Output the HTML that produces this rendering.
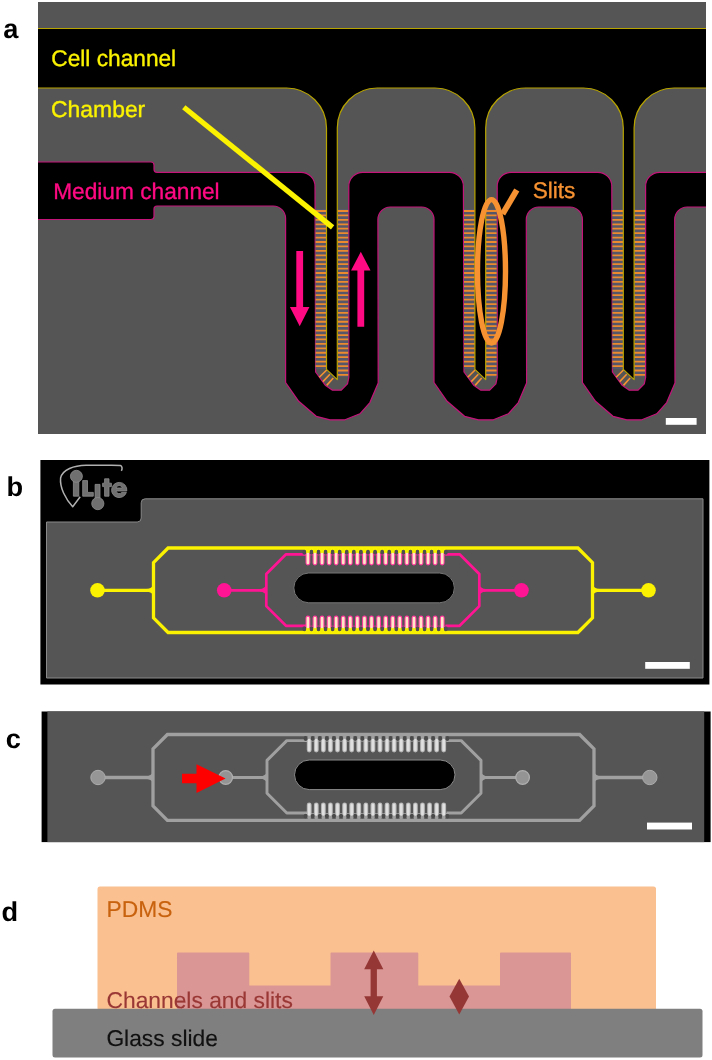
<!DOCTYPE html>
<html><head><meta charset="utf-8"><title>Figure</title>
<style>html,body{margin:0;padding:0;background:#fff;}svg{display:block;will-change:transform;}text{font-family:"Liberation Sans",sans-serif;text-rendering:geometricPrecision;}</style></head><body>
<svg width="712" height="1060" viewBox="0 0 712 1060">
<rect x="0" y="0" width="712" height="1060" fill="#ffffff"/>
<g font-weight="bold" font-size="27.2" fill="#000">
<text x="3.3" y="37.8">a</text>
<text x="6.6" y="495.6">b</text>
<text x="5.8" y="748">c</text>
<text x="1.4" y="920.5">d</text>
</g>
<defs><clipPath id="ca"><rect x="38" y="2" width="668" height="432"/></clipPath></defs>
<g clip-path="url(#ca)">
<rect x="38" y="2" width="668" height="432" fill="#555555"/>
<path d="M 20,162 H 151 q 3,0 3,3 V 169.3 q 0,3 3,3 H 301.00 a 14,14 0 0 1 14,14 L 315.60,372.00 L 325.60,385.60 L 332.50,390.20 L 341.30,390.20 L 347.50,383.80 L 348.80,377.50 V 186.30 a 14,14 0 0 1 14,-14 H 449.40 a 14,14 0 0 1 14,14 L 464.00,372.00 L 474.00,385.60 L 480.90,390.20 L 489.70,390.20 L 495.90,383.80 L 497.20,377.50 V 186.30 a 14,14 0 0 1 14,-14 H 597.80 a 14,14 0 0 1 14,14 L 612.40,372.00 L 622.40,385.60 L 629.30,390.20 L 638.10,390.20 L 644.30,383.80 L 645.60,377.50 V 186.30 a 14,14 0 0 1 14,-14 H 730 V 207 H 687.20 a 12.5,12.5 0 0 0 -12.5,12.5 L 675.00,383.00 L 666.70,402.60 L 656.70,413.80 L 641.80,419.80 L 626.80,419.80 L 613.00,416.30 L 595.50,401.30 L 582.40,382.50 V 219.50 a 12.5,12.5 0 0 0 -12.5,-12.5 H 538.80 a 12.5,12.5 0 0 0 -12.5,12.5 L 526.60,383.00 L 518.30,402.60 L 508.30,413.80 L 493.40,419.80 L 478.40,419.80 L 464.60,416.30 L 447.10,401.30 L 434.00,382.50 V 219.50 a 12.5,12.5 0 0 0 -12.5,-12.5 H 390.40 a 12.5,12.5 0 0 0 -12.5,12.5 L 378.20,383.00 L 369.90,402.60 L 359.90,413.80 L 345.00,419.80 L 330.00,419.80 L 316.20,416.30 L 298.70,401.30 L 285.60,382.50 V 218.50 a 12.5,12.5 0 0 0 -12.5,-12.5 H 157 q -3,0 -3,3 V 216.5 q 0,3 -3,3 H 20 Z" fill="#000" stroke="#c4147a" stroke-width="1.2" stroke-linejoin="round"/>
<rect x="315.60" y="209" width="10.90" height="160" fill="#57576a"/>
<rect x="337.30" y="209" width="10.90" height="168" fill="#57576a"/>
<path d="M315.60,211.00H326.50M337.30,211.00H348.20M315.60,215.43H326.50M337.30,215.43H348.20M315.60,219.86H326.50M337.30,219.86H348.20M315.60,224.29H326.50M337.30,224.29H348.20M315.60,228.72H326.50M337.30,228.72H348.20M315.60,233.15H326.50M337.30,233.15H348.20M315.60,237.58H326.50M337.30,237.58H348.20M315.60,242.01H326.50M337.30,242.01H348.20M315.60,246.44H326.50M337.30,246.44H348.20M315.60,250.87H326.50M337.30,250.87H348.20M315.60,255.30H326.50M337.30,255.30H348.20M315.60,259.73H326.50M337.30,259.73H348.20M315.60,264.16H326.50M337.30,264.16H348.20M315.60,268.59H326.50M337.30,268.59H348.20M315.60,273.02H326.50M337.30,273.02H348.20M315.60,277.45H326.50M337.30,277.45H348.20M315.60,281.88H326.50M337.30,281.88H348.20M315.60,286.31H326.50M337.30,286.31H348.20M315.60,290.74H326.50M337.30,290.74H348.20M315.60,295.17H326.50M337.30,295.17H348.20M315.60,299.60H326.50M337.30,299.60H348.20M315.60,304.03H326.50M337.30,304.03H348.20M315.60,308.46H326.50M337.30,308.46H348.20M315.60,312.89H326.50M337.30,312.89H348.20M315.60,317.32H326.50M337.30,317.32H348.20M315.60,321.75H326.50M337.30,321.75H348.20M315.60,326.18H326.50M337.30,326.18H348.20M315.60,330.61H326.50M337.30,330.61H348.20M315.60,335.04H326.50M337.30,335.04H348.20M315.60,339.47H326.50M337.30,339.47H348.20M315.60,343.90H326.50M337.30,343.90H348.20M315.60,348.33H326.50M337.30,348.33H348.20M315.60,352.76H326.50M337.30,352.76H348.20M315.60,357.19H326.50M337.30,357.19H348.20M315.60,361.62H326.50M337.30,361.62H348.20M315.60,366.05H326.50M337.30,366.05H348.20M337.30,370.48H348.20M337.30,374.91H348.20" stroke="#ee8a2e" stroke-width="1.8" fill="none"/>
<path d="M319.30,377.20L326.70,370.00M322.90,381.60L329.90,374.20M326.70,385.40L333.30,378.00" stroke="#f79232" stroke-width="1.6" fill="none"/>
<rect x="464.00" y="209" width="10.90" height="160" fill="#57576a"/>
<rect x="485.70" y="209" width="10.90" height="168" fill="#57576a"/>
<path d="M464.00,211.00H474.90M485.70,211.00H496.60M464.00,215.43H474.90M485.70,215.43H496.60M464.00,219.86H474.90M485.70,219.86H496.60M464.00,224.29H474.90M485.70,224.29H496.60M464.00,228.72H474.90M485.70,228.72H496.60M464.00,233.15H474.90M485.70,233.15H496.60M464.00,237.58H474.90M485.70,237.58H496.60M464.00,242.01H474.90M485.70,242.01H496.60M464.00,246.44H474.90M485.70,246.44H496.60M464.00,250.87H474.90M485.70,250.87H496.60M464.00,255.30H474.90M485.70,255.30H496.60M464.00,259.73H474.90M485.70,259.73H496.60M464.00,264.16H474.90M485.70,264.16H496.60M464.00,268.59H474.90M485.70,268.59H496.60M464.00,273.02H474.90M485.70,273.02H496.60M464.00,277.45H474.90M485.70,277.45H496.60M464.00,281.88H474.90M485.70,281.88H496.60M464.00,286.31H474.90M485.70,286.31H496.60M464.00,290.74H474.90M485.70,290.74H496.60M464.00,295.17H474.90M485.70,295.17H496.60M464.00,299.60H474.90M485.70,299.60H496.60M464.00,304.03H474.90M485.70,304.03H496.60M464.00,308.46H474.90M485.70,308.46H496.60M464.00,312.89H474.90M485.70,312.89H496.60M464.00,317.32H474.90M485.70,317.32H496.60M464.00,321.75H474.90M485.70,321.75H496.60M464.00,326.18H474.90M485.70,326.18H496.60M464.00,330.61H474.90M485.70,330.61H496.60M464.00,335.04H474.90M485.70,335.04H496.60M464.00,339.47H474.90M485.70,339.47H496.60M464.00,343.90H474.90M485.70,343.90H496.60M464.00,348.33H474.90M485.70,348.33H496.60M464.00,352.76H474.90M485.70,352.76H496.60M464.00,357.19H474.90M485.70,357.19H496.60M464.00,361.62H474.90M485.70,361.62H496.60M464.00,366.05H474.90M485.70,366.05H496.60M485.70,370.48H496.60M485.70,374.91H496.60" stroke="#ee8a2e" stroke-width="1.8" fill="none"/>
<path d="M467.70,377.20L475.10,370.00M471.30,381.60L478.30,374.20M475.10,385.40L481.70,378.00" stroke="#f79232" stroke-width="1.6" fill="none"/>
<rect x="612.40" y="209" width="10.90" height="160" fill="#57576a"/>
<rect x="634.10" y="209" width="10.90" height="168" fill="#57576a"/>
<path d="M612.40,211.00H623.30M634.10,211.00H645.00M612.40,215.43H623.30M634.10,215.43H645.00M612.40,219.86H623.30M634.10,219.86H645.00M612.40,224.29H623.30M634.10,224.29H645.00M612.40,228.72H623.30M634.10,228.72H645.00M612.40,233.15H623.30M634.10,233.15H645.00M612.40,237.58H623.30M634.10,237.58H645.00M612.40,242.01H623.30M634.10,242.01H645.00M612.40,246.44H623.30M634.10,246.44H645.00M612.40,250.87H623.30M634.10,250.87H645.00M612.40,255.30H623.30M634.10,255.30H645.00M612.40,259.73H623.30M634.10,259.73H645.00M612.40,264.16H623.30M634.10,264.16H645.00M612.40,268.59H623.30M634.10,268.59H645.00M612.40,273.02H623.30M634.10,273.02H645.00M612.40,277.45H623.30M634.10,277.45H645.00M612.40,281.88H623.30M634.10,281.88H645.00M612.40,286.31H623.30M634.10,286.31H645.00M612.40,290.74H623.30M634.10,290.74H645.00M612.40,295.17H623.30M634.10,295.17H645.00M612.40,299.60H623.30M634.10,299.60H645.00M612.40,304.03H623.30M634.10,304.03H645.00M612.40,308.46H623.30M634.10,308.46H645.00M612.40,312.89H623.30M634.10,312.89H645.00M612.40,317.32H623.30M634.10,317.32H645.00M612.40,321.75H623.30M634.10,321.75H645.00M612.40,326.18H623.30M634.10,326.18H645.00M612.40,330.61H623.30M634.10,330.61H645.00M612.40,335.04H623.30M634.10,335.04H645.00M612.40,339.47H623.30M634.10,339.47H645.00M612.40,343.90H623.30M634.10,343.90H645.00M612.40,348.33H623.30M634.10,348.33H645.00M612.40,352.76H623.30M634.10,352.76H645.00M612.40,357.19H623.30M634.10,357.19H645.00M612.40,361.62H623.30M634.10,361.62H645.00M612.40,366.05H623.30M634.10,366.05H645.00M634.10,370.48H645.00M634.10,374.91H645.00" stroke="#ee8a2e" stroke-width="1.8" fill="none"/>
<path d="M616.10,377.20L623.50,370.00M619.70,381.60L626.70,374.20M623.50,385.40L630.10,378.00" stroke="#f79232" stroke-width="1.6" fill="none"/>
<path d="M 20,28.5 H 730 V 88 H 674.10 a 40,40 0 0 0 -40,40 V 379.6 L 623.30,369.4 V 128 a 40,40 0 0 0 -40,-40 H 525.70 a 40,40 0 0 0 -40,40 V 379.6 L 474.90,369.4 V 128 a 40,40 0 0 0 -40,-40 H 377.30 a 40,40 0 0 0 -40,40 V 379.6 L 326.50,369.4 V 128 a 40,40 0 0 0 -40,-40 H 20 Z" fill="#000" stroke="#b8a400" stroke-width="1.2" stroke-linejoin="round"/>
<line x1="183.8" y1="107.3" x2="332.6" y2="227.4" stroke="#faf200" stroke-width="5.3"/>
<path d="M296.3,251 H303.09999999999997 V307.0 H309.45 L299.7,326.2 L289.95,307.0 H296.3 Z" fill="#ff0a82"/>
<path d="M360.8,251.8 L370.55,270.40000000000003 H364.2 V326.8 H357.40000000000003 V270.40000000000003 H351.05 Z" fill="#ff0a82"/>
<ellipse cx="491.5" cy="271.3" rx="14.0" ry="71.7" fill="none" stroke="#f79232" stroke-width="5.4"/>
<line x1="502.6" y1="214" x2="516.8" y2="190" stroke="#f79232" stroke-width="5.9"/>
<g font-size="22.9" stroke-width="0.35">
<text x="51.3" y="65.9" fill="#faf200" stroke="#faf200" font-size="22.7">Cell channel</text>
<text x="51.1" y="117.0" fill="#faf200" stroke="#faf200">Chamber</text>
<text x="53.2" y="198.5" fill="#ff0a82" stroke="#ff0a82" font-size="22.7">Medium channel</text>
<text x="532.7" y="198.4" fill="#f79232" stroke="#f79232" font-size="22.6">Slits</text>
</g>
<rect x="665.8" y="418" width="30.8" height="6.8" fill="#fff"/>
</g>
<g>
<rect x="40.4" y="460" width="669.0" height="224.5" fill="#000"/>
<path d="M46.5,522 H137.2 q4,0 4,-4 V502.8 q0,-4 4,-4 H703 V678 H46.5 Z" fill="#555555" stroke="#8a8a8a" stroke-width="1"/>
<g id="logo" fill="#707070" stroke="#8e8e8e" stroke-width="0.8" stroke-linejoin="round">
<path d="M121.4,470.8 C122.6,468.6 122.2,466.2 120.4,465.4 C112,465 98,465.6 86,465.2 C74,465.4 62.5,469.5 60.6,478 C59.6,487.5 65.5,499 72.7,506.8 L80.2,496.8" fill="none" stroke="#b0b0b0" stroke-width="1.5"/>
<rect x="73.4" y="481" width="5.4" height="15.2"/>
<circle cx="76.4" cy="476.3" r="6"/>
<path d="M82.7,480.6 h4.8 v11.8 h5.8 v3.8 h-10.6 Z"/>
<rect x="95.1" y="484.4" width="4.9" height="14"/>
<circle cx="97.8" cy="503.6" r="6.1"/>
<path d="M104.6,478.8 h4.4 v4.4 h2.4 v3.4 h-2.4 v9.6 h-4.4 v-9.6 h-2 v-3.4 h2 Z"/>
<path d="M119.2,482.4 a7.6,7.6 0 1 0 7.2,10 h-4.6 a3.3,3.3 0 0 1 -5.8,-1.4 h10.8 a7.6,7.6 0 0 0 -7.6,-8.6 Z M116,488 a3.3,3.3 0 0 1 6.4,0 Z" fill-rule="evenodd"/>
</g>
<path d="M168.1,548 H577.9 L592.5,562.6 V617.9 L577.9,632.5 H168.1 L153.5,617.9 V562.6 Z" fill="none" stroke="#faf200" stroke-width="3.3" stroke-linejoin="miter"/>
<path d="M97.5,590.3 H153.5 M592.5,590.3 H648.5" stroke="#faf200" stroke-width="3.3" fill="none"/>
<path d="M153.5,584.6999999999999 Q151.7,588.6999999999999 146.5,589.0 V591.5999999999999 Q151.7,591.9 153.5,595.9 Z" fill="#faf200"/>
<path d="M592.5,584.6999999999999 Q594.3,588.6999999999999 599.5,589.0 V591.5999999999999 Q594.3,591.9 592.5,595.9 Z" fill="#faf200"/>
<circle cx="97.5" cy="590.3" r="7.3" fill="#faf200"/>
<circle cx="648.5" cy="590.3" r="7.3" fill="#faf200"/>
<path d="M224.2,590.3 H266.3 M306,554.3 H286.0 L266.3,574.0 V606.0999999999999 L286.0,625.8 H306" fill="none" stroke="#ff1493" stroke-width="2.7" stroke-linejoin="round"/>
<path d="M521.5,590.3 H479.3 M445.5,554.3 H459.6 L479.3,574.0 V606.0999999999999 L459.6,625.8 H445.5" fill="none" stroke="#ff1493" stroke-width="2.7" stroke-linejoin="round"/>
<path d="M266.3,585.0999999999999 Q264.5,588.8 259.8,589.0999999999999 V591.5 Q264.5,591.8 266.3,595.5 Z" fill="#ff1493"/>
<path d="M479.3,585.0999999999999 Q481.1,588.8 485.8,589.0999999999999 V591.5 Q481.1,591.8 479.3,595.5 Z" fill="#ff1493"/>
<circle cx="224.2" cy="590.3" r="7.3" fill="#ff1493"/>
<circle cx="521.5" cy="590.3" r="7.3" fill="#ff1493"/>
<rect x="293.8" y="573" width="160.59999999999997" height="29.799999999999955" rx="14.899999999999977" ry="14.899999999999977" fill="#000" stroke="#777" stroke-width="1"/>
<path d="M304.36,550.80H445.77M304.36,630.20H445.77" stroke="#faf200" stroke-width="4.6" fill="none"/>
<path d="M303.36,554.10H446.77M303.36,626.90H446.77" stroke="#ff3aa0" stroke-width="2.2" fill="none"/>
<path d="M304.36,551.80V552.80M304.36,629.20V628.20M311.44,551.80V552.80M311.44,629.20V628.20M318.50,551.80V552.80M318.50,629.20V628.20M325.57,551.80V552.80M325.57,629.20V628.20M332.64,551.80V552.80M332.64,629.20V628.20M339.71,551.80V552.80M339.71,629.20V628.20M346.78,551.80V552.80M346.78,629.20V628.20M353.85,551.80V552.80M353.85,629.20V628.20M360.92,551.80V552.80M360.92,629.20V628.20M368.00,551.80V552.80M368.00,629.20V628.20M375.06,551.80V552.80M375.06,629.20V628.20M382.13,551.80V552.80M382.13,629.20V628.20M389.20,551.80V552.80M389.20,629.20V628.20M396.27,551.80V552.80M396.27,629.20V628.20M403.34,551.80V552.80M403.34,629.20V628.20M410.41,551.80V552.80M410.41,629.20V628.20M417.49,551.80V552.80M417.49,629.20V628.20M424.55,551.80V552.80M424.55,629.20V628.20M431.62,551.80V552.80M431.62,629.20V628.20M438.69,551.80V552.80M438.69,629.20V628.20M445.76,551.80V552.80M445.76,629.20V628.20" stroke="#4c4c52" stroke-width="3.9" stroke-linecap="round" fill="none"/>
<path d="M307.90,555.60V563.00M307.90,618.00V625.40M314.97,555.60V563.00M314.97,618.00V625.40M322.04,555.60V563.00M322.04,618.00V625.40M329.11,555.60V563.00M329.11,618.00V625.40M336.18,555.60V563.00M336.18,618.00V625.40M343.25,555.60V563.00M343.25,618.00V625.40M350.32,555.60V563.00M350.32,618.00V625.40M357.39,555.60V563.00M357.39,618.00V625.40M364.46,555.60V563.00M364.46,618.00V625.40M371.53,555.60V563.00M371.53,618.00V625.40M378.60,555.60V563.00M378.60,618.00V625.40M385.67,555.60V563.00M385.67,618.00V625.40M392.74,555.60V563.00M392.74,618.00V625.40M399.81,555.60V563.00M399.81,618.00V625.40M406.88,555.60V563.00M406.88,618.00V625.40M413.95,555.60V563.00M413.95,618.00V625.40M421.02,555.60V563.00M421.02,618.00V625.40M428.09,555.60V563.00M428.09,618.00V625.40M435.16,555.60V563.00M435.16,618.00V625.40M442.23,555.60V563.00M442.23,618.00V625.40" stroke="#ff3aa0" stroke-width="4.8" stroke-linecap="round" fill="none"/>
<path d="M307.90,548.00V553.60M307.90,632.50V627.40M314.97,548.00V553.60M314.97,632.50V627.40M322.04,548.00V553.60M322.04,632.50V627.40M329.11,548.00V553.60M329.11,632.50V627.40M336.18,548.00V553.60M336.18,632.50V627.40M343.25,548.00V553.60M343.25,632.50V627.40M350.32,548.00V553.60M350.32,632.50V627.40M357.39,548.00V553.60M357.39,632.50V627.40M364.46,548.00V553.60M364.46,632.50V627.40M371.53,548.00V553.60M371.53,632.50V627.40M378.60,548.00V553.60M378.60,632.50V627.40M385.67,548.00V553.60M385.67,632.50V627.40M392.74,548.00V553.60M392.74,632.50V627.40M399.81,548.00V553.60M399.81,632.50V627.40M406.88,548.00V553.60M406.88,632.50V627.40M413.95,548.00V553.60M413.95,632.50V627.40M421.02,548.00V553.60M421.02,632.50V627.40M428.09,548.00V553.60M428.09,632.50V627.40M435.16,548.00V553.60M435.16,632.50V627.40M442.23,548.00V553.60M442.23,632.50V627.40" stroke="#f4f000" stroke-width="3.0" stroke-linecap="butt" fill="none"/>
<path d="M307.90,554.00V562.90M307.90,618.10V627.00M314.97,554.00V562.90M314.97,618.10V627.00M322.04,554.00V562.90M322.04,618.10V627.00M329.11,554.00V562.90M329.11,618.10V627.00M336.18,554.00V562.90M336.18,618.10V627.00M343.25,554.00V562.90M343.25,618.10V627.00M350.32,554.00V562.90M350.32,618.10V627.00M357.39,554.00V562.90M357.39,618.10V627.00M364.46,554.00V562.90M364.46,618.10V627.00M371.53,554.00V562.90M371.53,618.10V627.00M378.60,554.00V562.90M378.60,618.10V627.00M385.67,554.00V562.90M385.67,618.10V627.00M392.74,554.00V562.90M392.74,618.10V627.00M399.81,554.00V562.90M399.81,618.10V627.00M406.88,554.00V562.90M406.88,618.10V627.00M413.95,554.00V562.90M413.95,618.10V627.00M421.02,554.00V562.90M421.02,618.10V627.00M428.09,554.00V562.90M428.09,618.10V627.00M435.16,554.00V562.90M435.16,618.10V627.00M442.23,554.00V562.90M442.23,618.10V627.00" stroke="#ffe6c8" stroke-width="2.7" stroke-linecap="round" fill="none"/>
<rect x="645.2" y="662" width="44.6" height="6.8" fill="#fff"/>
</g>
<g>
<rect x="41.6" y="711.5" width="669.0" height="130.6" fill="#000"/>
<rect x="47.4" y="711.5" width="656.8" height="130.6" fill="#555555"/>
<path d="M167.4,734.5 H579.6 L594,748.9 V805.9 L579.6,820.3 H167.4 L153,805.9 V748.9 Z" fill="none" stroke="#a0a0a0" stroke-width="3.3" stroke-linejoin="miter"/>
<path d="M98,777.5 H153 M594,777.5 H649.8" stroke="#a0a0a0" stroke-width="3.3" fill="none"/>
<path d="M153,771.9 Q151.2,775.9 146,776.2 V778.8 Q151.2,779.1 153,783.1 Z" fill="#a0a0a0"/>
<path d="M594,771.9 Q595.8,775.9 601,776.2 V778.8 Q595.8,779.1 594,783.1 Z" fill="#a0a0a0"/>
<circle cx="98" cy="777.5" r="7.2" fill="#969696" stroke="#acacac" stroke-width="1"/>
<circle cx="649.8" cy="777.5" r="7.2" fill="#969696" stroke="#acacac" stroke-width="1"/>
<path d="M225.7,777.5 H267 M307,740.6 H286.8 L267,760.4 V793.2 L286.8,813.0 H307" fill="none" stroke="#a0a0a0" stroke-width="2.9" stroke-linejoin="round"/>
<path d="M522.6,777.5 H481 M446.5,740.6 H461.2 L481,760.4 V793.2 L461.2,813.0 H446.5" fill="none" stroke="#a0a0a0" stroke-width="2.9" stroke-linejoin="round"/>
<path d="M267,772.3 Q265.2,776.0 260.5,776.3 V778.7 Q265.2,779.0 267,782.7 Z" fill="#a0a0a0"/>
<path d="M481,772.3 Q482.8,776.0 487.5,776.3 V778.7 Q482.8,779.0 481,782.7 Z" fill="#a0a0a0"/>
<circle cx="225.7" cy="777.5" r="6.8" fill="#949494" stroke="#b0b0b0" stroke-width="1.2"/>
<circle cx="522.6" cy="777.5" r="6.8" fill="#949494" stroke="#b0b0b0" stroke-width="1.2"/>
<rect x="294.5" y="760" width="160.5" height="29.600000000000023" rx="14.800000000000011" ry="14.800000000000011" fill="#000" stroke="#8a8a8a" stroke-width="1"/>
<path d="M305.66,737.90H447.26M305.66,816.70H447.26" stroke="#858585" stroke-width="3.2" fill="none"/>
<path d="M304.66,740.30H448.26M304.66,814.30H448.26" stroke="#b4b4b4" stroke-width="2.2" fill="none"/>
<path d="M305.66,738.00V739.00M305.66,816.60V815.60M312.74,738.00V739.00M312.74,816.60V815.60M319.82,738.00V739.00M319.82,816.60V815.60M326.90,738.00V739.00M326.90,816.60V815.60M333.98,738.00V739.00M333.98,816.60V815.60M341.06,738.00V739.00M341.06,816.60V815.60M348.14,738.00V739.00M348.14,816.60V815.60M355.22,738.00V739.00M355.22,816.60V815.60M362.30,738.00V739.00M362.30,816.60V815.60M369.38,738.00V739.00M369.38,816.60V815.60M376.46,738.00V739.00M376.46,816.60V815.60M383.54,738.00V739.00M383.54,816.60V815.60M390.62,738.00V739.00M390.62,816.60V815.60M397.70,738.00V739.00M397.70,816.60V815.60M404.78,738.00V739.00M404.78,816.60V815.60M411.86,738.00V739.00M411.86,816.60V815.60M418.94,738.00V739.00M418.94,816.60V815.60M426.02,738.00V739.00M426.02,816.60V815.60M433.10,738.00V739.00M433.10,816.60V815.60M440.18,738.00V739.00M440.18,816.60V815.60M447.26,738.00V739.00M447.26,816.60V815.60" stroke="#4a4a4a" stroke-width="3.9" stroke-linecap="round" fill="none"/>
<path d="M309.20,741.80V750.00M309.20,804.80V812.80M316.28,741.80V750.00M316.28,804.80V812.80M323.36,741.80V750.00M323.36,804.80V812.80M330.44,741.80V750.00M330.44,804.80V812.80M337.52,741.80V750.00M337.52,804.80V812.80M344.60,741.80V750.00M344.60,804.80V812.80M351.68,741.80V750.00M351.68,804.80V812.80M358.76,741.80V750.00M358.76,804.80V812.80M365.84,741.80V750.00M365.84,804.80V812.80M372.92,741.80V750.00M372.92,804.80V812.80M380.00,741.80V750.00M380.00,804.80V812.80M387.08,741.80V750.00M387.08,804.80V812.80M394.16,741.80V750.00M394.16,804.80V812.80M401.24,741.80V750.00M401.24,804.80V812.80M408.32,741.80V750.00M408.32,804.80V812.80M415.40,741.80V750.00M415.40,804.80V812.80M422.48,741.80V750.00M422.48,804.80V812.80M429.56,741.80V750.00M429.56,804.80V812.80M436.64,741.80V750.00M436.64,804.80V812.80M443.72,741.80V750.00M443.72,804.80V812.80" stroke="#b4b4b4" stroke-width="4.8" stroke-linecap="round" fill="none"/>
<path d="M309.20,734.50V739.80M309.20,820.30V814.80M316.28,734.50V739.80M316.28,820.30V814.80M323.36,734.50V739.80M323.36,820.30V814.80M330.44,734.50V739.80M330.44,820.30V814.80M337.52,734.50V739.80M337.52,820.30V814.80M344.60,734.50V739.80M344.60,820.30V814.80M351.68,734.50V739.80M351.68,820.30V814.80M358.76,734.50V739.80M358.76,820.30V814.80M365.84,734.50V739.80M365.84,820.30V814.80M372.92,734.50V739.80M372.92,820.30V814.80M380.00,734.50V739.80M380.00,820.30V814.80M387.08,734.50V739.80M387.08,820.30V814.80M394.16,734.50V739.80M394.16,820.30V814.80M401.24,734.50V739.80M401.24,820.30V814.80M408.32,734.50V739.80M408.32,820.30V814.80M415.40,734.50V739.80M415.40,820.30V814.80M422.48,734.50V739.80M422.48,820.30V814.80M429.56,734.50V739.80M429.56,820.30V814.80M436.64,734.50V739.80M436.64,820.30V814.80M443.72,734.50V739.80M443.72,820.30V814.80" stroke="#a0a0a0" stroke-width="3.0" stroke-linecap="butt" fill="none"/>
<path d="M309.20,740.20V749.90M309.20,804.90V814.40M316.28,740.20V749.90M316.28,804.90V814.40M323.36,740.20V749.90M323.36,804.90V814.40M330.44,740.20V749.90M330.44,804.90V814.40M337.52,740.20V749.90M337.52,804.90V814.40M344.60,740.20V749.90M344.60,804.90V814.40M351.68,740.20V749.90M351.68,804.90V814.40M358.76,740.20V749.90M358.76,804.90V814.40M365.84,740.20V749.90M365.84,804.90V814.40M372.92,740.20V749.90M372.92,804.90V814.40M380.00,740.20V749.90M380.00,804.90V814.40M387.08,740.20V749.90M387.08,804.90V814.40M394.16,740.20V749.90M394.16,804.90V814.40M401.24,740.20V749.90M401.24,804.90V814.40M408.32,740.20V749.90M408.32,804.90V814.40M415.40,740.20V749.90M415.40,804.90V814.40M422.48,740.20V749.90M422.48,804.90V814.40M429.56,740.20V749.90M429.56,804.90V814.40M436.64,740.20V749.90M436.64,804.90V814.40M443.72,740.20V749.90M443.72,804.90V814.40" stroke="#e0e0e0" stroke-width="2.7" stroke-linecap="round" fill="none"/>
<path d="M182,773.7 H196.5 V764.3 L225.6,778.5 L196.5,793.1 V783.2 H182 Z" fill="#ff0000"/>
<rect x="647" y="822.6" width="45" height="6.9" fill="#fff"/>
</g>
<g>
<rect x="97.5" y="886.5" width="558.5" height="124" rx="2.5" ry="2.5" fill="#fac090"/>
<path d="M177,1009 V953.5 q0,-1 1,-1 H248.3 q1,0 1,1 V985.5 H330.5 V953.5 q0,-1 1,-1 H417.3 q1,0 1,1 V985.5 H500 V953.5 q0,-1 1,-1 H570 q1,0 1,1 V1009 Z" fill="#d99694"/>
<rect x="52.5" y="1008.8" width="650" height="48.8" rx="2.5" ry="2.5" fill="#7f7f7f"/>
<g font-size="22.8" stroke-width="0.15">
<text x="106.6" y="916.9" fill="#c8620e" stroke="#c8620e">PDMS</text>
<text x="106.5" y="1007.5" fill="#9a3836" stroke="#9a3836">Channels and slits</text>
<text x="106.4" y="1045.8" fill="#111" stroke="#111">Glass slide</text>
</g>
<path d="M373.75,950.5 L383.3,969.3 H376.9 V996.2 H383.3 L373.75,1015 L364.2,996.2 H370.6 V969.3 H364.2 Z" fill="#953735"/>
<path d="M459.25,978.8 L469,996.5 L459.25,1014.6 L449.5,996.5 Z" fill="#953735"/>
</g>
</svg></body></html>
